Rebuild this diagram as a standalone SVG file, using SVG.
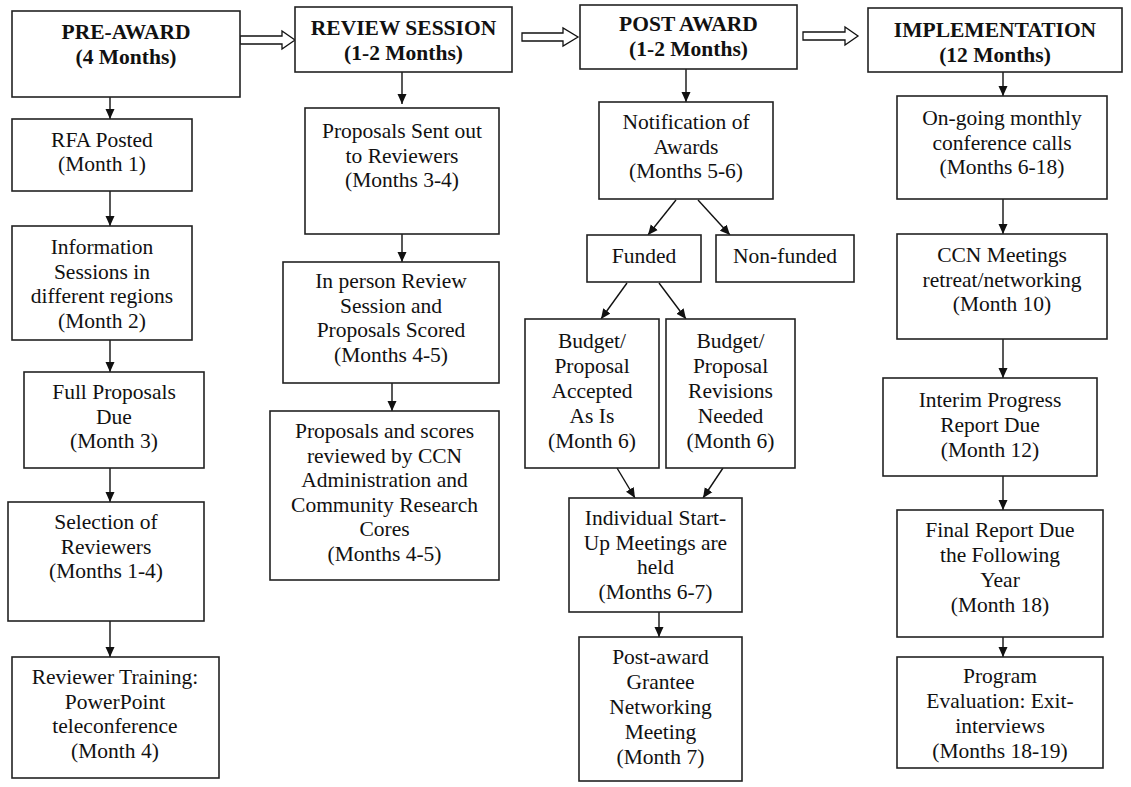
<svg xmlns="http://www.w3.org/2000/svg" width="1131" height="787" viewBox="0 0 1131 787">
<defs>
<marker id="ah" markerWidth="10" markerHeight="10" viewBox="0 0 10 10" refX="10" refY="5" orient="auto" markerUnits="userSpaceOnUse">
<path d="M0,0.5 L10,5 L0,9.5 Z" fill="#111"/>
</marker>
<style>
rect{fill:#fff;stroke:#222;stroke-width:1.6}
text{font-family:"Liberation Serif","Times New Roman",serif;font-size:21.5px;fill:#111;text-anchor:middle}
.h{font-weight:bold}
.c{stroke:#111;stroke-width:1.4;fill:none;marker-end:url(#ah)}
.b{fill:#fff;stroke:#111;stroke-width:1.3}
</style>
</defs>
<rect x="0" y="0" width="1131" height="787" style="fill:#fff;stroke:none"/>

<g id="connectors">
<polygon class="b" points="240,36 282,36 282,31 295,40 282,49 282,44 240,44"/>
<polygon class="b" points="522,33 563,33 563,28 578,37 563,46 563,41 522,41"/>
<polygon class="b" points="803,32 845,32 845,27 858,36 845,45 845,40 803,40"/>
<line class="c" x1="110" y1="97" x2="110" y2="119"/>
<line class="c" x1="110" y1="191" x2="110" y2="226"/>
<line class="c" x1="110" y1="340" x2="110" y2="372"/>
<line class="c" x1="110" y1="468" x2="110" y2="502"/>
<line class="c" x1="110" y1="621" x2="110" y2="657"/>
<line class="c" x1="402" y1="72" x2="402" y2="104"/>
<line class="c" x1="402" y1="234" x2="402" y2="262"/>
<line class="c" x1="392" y1="383" x2="392" y2="411"/>
<line class="c" x1="686" y1="69" x2="686" y2="102"/>
<line class="c" x1="676" y1="200" x2="648" y2="235"/>
<line class="c" x1="698" y1="200" x2="730" y2="235"/>
<line class="c" x1="627" y1="283" x2="601" y2="319"/>
<line class="c" x1="659" y1="283" x2="686" y2="319"/>
<line class="c" x1="617" y1="468" x2="635" y2="498"/>
<line class="c" x1="723" y1="468" x2="703" y2="498"/>
<line class="c" x1="659" y1="612" x2="659" y2="637"/>
<line class="c" x1="1003" y1="72" x2="1003" y2="96"/>
<line class="c" x1="1003" y1="199" x2="1003" y2="234"/>
<line class="c" x1="1003" y1="339" x2="1003" y2="378"/>
<line class="c" x1="1003" y1="476" x2="1003" y2="510"/>
<line class="c" x1="1003" y1="637" x2="1003" y2="657"/>
</g>

<g id="pre-award">
<rect x="12" y="11" width="228" height="86"/>
<text class="h" x="126" y="39">PRE-AWARD</text>
<text class="h" x="126" y="64">(4 Months)</text>
</g>
<g id="rfa-posted">
<rect x="12" y="119" width="180" height="72"/>
<text x="102" y="147">RFA Posted</text>
<text x="102" y="171">(Month 1)</text>
</g>
<g id="info-sessions">
<rect x="12" y="226" width="180" height="114"/>
<text x="102" y="254">Information</text>
<text x="102" y="278.5">Sessions in</text>
<text x="102" y="303">different regions</text>
<text x="102" y="327.5">(Month 2)</text>
</g>
<g id="full-proposals">
<rect x="24" y="372" width="180" height="96"/>
<text x="114" y="399">Full Proposals</text>
<text x="114" y="423.5">Due</text>
<text x="114" y="448">(Month 3)</text>
</g>
<g id="selection">
<rect x="8" y="502" width="196" height="119"/>
<text x="106" y="529">Selection of</text>
<text x="106" y="553.5">Reviewers</text>
<text x="106" y="578">(Months 1-4)</text>
</g>
<g id="reviewer-training">
<rect x="12" y="657" width="207" height="121"/>
<text x="115" y="684">Reviewer Training:</text>
<text x="115" y="708.5">PowerPoint</text>
<text x="115" y="733">teleconference</text>
<text x="115" y="757.5">(Month 4)</text>
</g>

<g id="review-session">
<rect x="295" y="7" width="217" height="65"/>
<text class="h" x="403.5" y="35">REVIEW SESSION</text>
<text class="h" x="403.5" y="60">(1-2 Months)</text>
</g>
<g id="proposals-sent">
<rect x="305" y="108" width="194" height="126"/>
<text x="402" y="138">Proposals Sent out</text>
<text x="402" y="162.5">to Reviewers</text>
<text x="402" y="187">(Months 3-4)</text>
</g>
<g id="in-person-review">
<rect x="283" y="262" width="216" height="121"/>
<text x="391" y="288">In person Review</text>
<text x="391" y="312.5">Session and</text>
<text x="391" y="337">Proposals Scored</text>
<text x="391" y="361.5">(Months 4-5)</text>
</g>
<g id="proposals-scores">
<rect x="270" y="411" width="229" height="169"/>
<text x="384.5" y="438">Proposals and scores</text>
<text x="384.5" y="462.5">reviewed by CCN</text>
<text x="384.5" y="487">Administration and</text>
<text x="384.5" y="511.5">Community Research</text>
<text x="384.5" y="536">Cores</text>
<text x="384.5" y="560.5">(Months 4-5)</text>
</g>

<g id="post-award">
<rect x="580" y="5" width="217" height="64"/>
<text class="h" x="688.5" y="31">POST AWARD</text>
<text class="h" x="688.5" y="56">(1-2 Months)</text>
</g>
<g id="notification">
<rect x="599" y="102" width="174" height="97"/>
<text x="686" y="129">Notification of</text>
<text x="686" y="153.5">Awards</text>
<text x="686" y="178">(Months 5-6)</text>
</g>
<g id="funded">
<rect x="587" y="235" width="114" height="47"/>
<text x="644" y="263">Funded</text>
</g>
<g id="non-funded">
<rect x="716" y="235" width="138" height="47"/>
<text x="785" y="263">Non-funded</text>
</g>
<g id="budget-accepted">
<rect x="525" y="319" width="134" height="149"/>
<text x="592" y="348">Budget/</text>
<text x="592" y="373">Proposal</text>
<text x="592" y="398">Accepted</text>
<text x="592" y="423">As Is</text>
<text x="592" y="448">(Month 6)</text>
</g>
<g id="budget-revisions">
<rect x="666" y="319" width="129" height="149"/>
<text x="730.5" y="348">Budget/</text>
<text x="730.5" y="373">Proposal</text>
<text x="730.5" y="398">Revisions</text>
<text x="730.5" y="423">Needed</text>
<text x="730.5" y="448">(Month 6)</text>
</g>
<g id="start-up-meetings">
<rect x="569" y="498" width="173" height="114"/>
<text x="655.5" y="525">Individual Start-</text>
<text x="655.5" y="549.5">Up Meetings are</text>
<text x="655.5" y="574">held</text>
<text x="655.5" y="598.5">(Months 6-7)</text>
</g>
<g id="post-award-meeting">
<rect x="579" y="637" width="163" height="144"/>
<text x="660.5" y="664">Post-award</text>
<text x="660.5" y="689">Grantee</text>
<text x="660.5" y="714">Networking</text>
<text x="660.5" y="739">Meeting</text>
<text x="660.5" y="764">(Month 7)</text>
</g>

<g id="implementation">
<rect x="868" y="8" width="254" height="64"/>
<text class="h" x="995" y="37">IMPLEMENTATION</text>
<text class="h" x="995" y="62">(12 Months)</text>
</g>
<g id="conference-calls">
<rect x="897" y="96" width="210" height="103"/>
<text x="1002" y="125">On-going monthly</text>
<text x="1002" y="149.5">conference calls</text>
<text x="1002" y="174">(Months 6-18)</text>
</g>
<g id="ccn-meetings">
<rect x="897" y="234" width="210" height="105"/>
<text x="1002" y="262">CCN Meetings</text>
<text x="1002" y="286.5">retreat/networking</text>
<text x="1002" y="311">(Month 10)</text>
</g>
<g id="interim-report">
<rect x="883" y="378" width="214" height="98"/>
<text x="990" y="407">Interim Progress</text>
<text x="990" y="432">Report Due</text>
<text x="990" y="457">(Month 12)</text>
</g>
<g id="final-report">
<rect x="897" y="510" width="206" height="127"/>
<text x="1000" y="537">Final Report Due</text>
<text x="1000" y="562">the Following</text>
<text x="1000" y="587">Year</text>
<text x="1000" y="612">(Month 18)</text>
</g>
<g id="program-evaluation">
<rect x="897" y="657" width="206" height="111"/>
<text x="1000" y="683">Program</text>
<text x="1000" y="708">Evaluation: Exit-</text>
<text x="1000" y="733">interviews</text>
<text x="1000" y="758">(Months 18-19)</text>
</g>
</svg>
